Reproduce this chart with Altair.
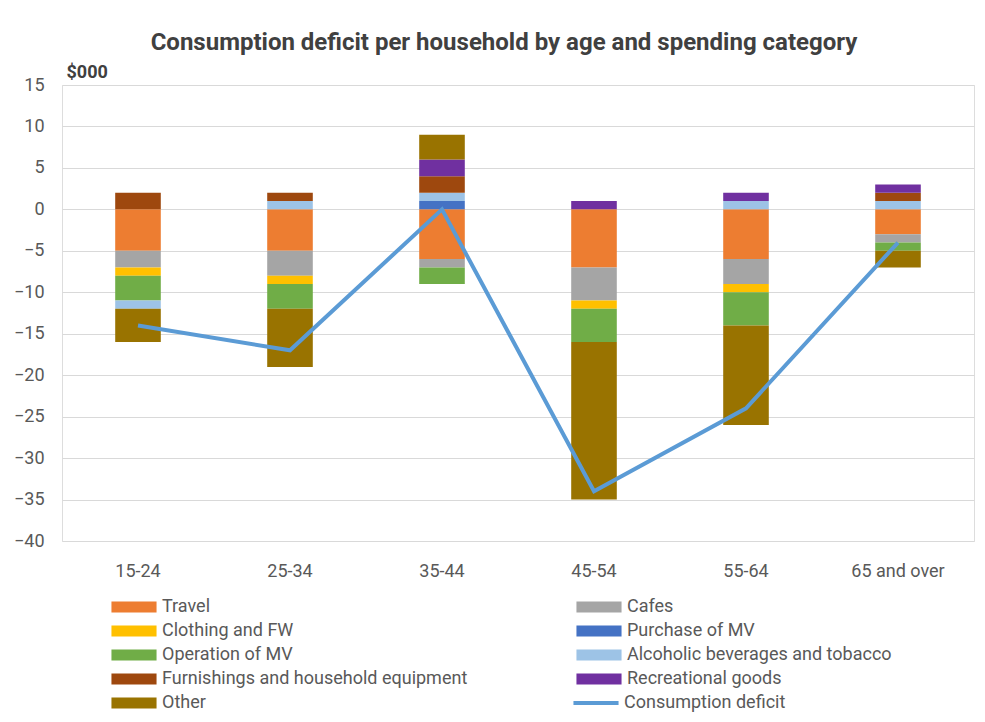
import altair as alt
import pandas as pd

ages = ["15-24", "25-34", "35-44", "45-54", "55-64", "65 and over"]

series = [
    "Travel", "Cafes", "Clothing and FW", "Purchase of MV", "Operation of MV",
    "Alcoholic beverages and tobacco", "Furnishings and household equipment",
    "Recreational goods", "Other",
]
colors = ["#ED7D31", "#A5A5A5", "#FFC000", "#4472C4", "#70AD47",
          "#9DC3E6", "#9E480E", "#7030A0", "#997300"]

travel = [-5, -5, -6, -7, -6, -3]
cafes = [-2, -3, -1, -4, -3, -1]
clothing = [-1, -1, 0, -1, -1, 0]
purchase_mv = [0, 0, 1, 0, 0, 0]
operation_mv = [-3, -3, -2, -4, -4, -1]
alcohol = [-1, 1, 1, 0, 1, 1]
furnishings = [2, 1, 2, 0, 0, 1]
recreational = [0, 0, 2, 1, 1, 1]
other = [-4, -7, 3, -19, -12, -2]

deficit = [-14, -17, 0, -34, -24, -4]

values = [travel, cafes, clothing, purchase_mv, operation_mv,
          alcohol, furnishings, recreational, other]

rows = []
for i, (name, vals) in enumerate(zip(series, values)):
    for age, v in zip(ages, vals):
        if v != 0:
            rows.append({"age": age, "series": name, "value": v, "idx": i})
bars_df = pd.DataFrame(rows)

line_df = pd.DataFrame({"age": ages, "value": deficit,
                        "series": ["Consumption deficit"] * len(ages)})

FONT = "Roboto"
LABEL = "#595959"

x_enc = alt.X("age:N", sort=ages,
              scale=alt.Scale(domain=ages, paddingInner=0.7, paddingOuter=0.35),
              axis=alt.Axis(title=None, labelAngle=0, ticks=False, domain=False,
                            labelFontSize=18, labelColor=LABEL, labelFont=FONT,
                            labelPadding=21, grid=False))

y_scale = alt.Scale(domain=[-40, 15], nice=False, zero=False)

legend_common = dict(title=None, orient="none", labelFontSize=18,
                     labelColor=LABEL, labelFont=FONT, padding=0,
                     labelLimit=400, symbolSize=121, labelOffset=19)

bars = alt.Chart(bars_df).mark_bar().encode(
    x=x_enc,
    y=alt.Y("value:Q", stack="zero", scale=y_scale,
            axis=alt.Axis(title="$000", titleAngle=0, titleAlign="left",
                          titleBaseline="middle", titleX=4, titleY=-13,
                          titleFontSize=18, titleFontWeight="bold",
                          titleColor="#404040", titleFont=FONT,
                          values=list(range(-40, 16, 5)), ticks=False,
                          domain=False, labelFontSize=18, labelColor=LABEL,
                          labelFont=FONT, labelPadding=18,
                          gridColor="#D9D9D9", gridWidth=1.2)),
    color=alt.Color("series:N",
                    scale=alt.Scale(domain=series, range=colors),
                    legend=alt.Legend(legendX=63, legendY=513, columns=2,
                                      direction="horizontal",
                                      columnPadding=108, rowPadding=6,
                                      symbolType="M-4.1,-1H4.1V1H-4.1Z",
                                      symbolStrokeWidth=0,
                                      **legend_common)),
    order=alt.Order("idx:Q", sort="ascending"),
)

line = alt.Chart(line_df).mark_line(strokeWidth=4).encode(
    x=alt.X("age:N", sort=ages),
    y=alt.Y("value:Q", scale=y_scale),
    color=alt.Color("series:N",
                    scale=alt.Scale(domain=["Consumption deficit"],
                                    range=["#5B9BD5"]),
                    legend=alt.Legend(legendX=525, legendY=609,
                                      symbolType="M-4.1,0H4.1",
                                      symbolStrokeWidth=4,
                                      **legend_common)),
)

chart = alt.layer(bars, line).resolve_scale(color="independent").properties(
    width=912,
    height=456,
    autosize=alt.AutoSizeParams(type="none"),
    padding={"left": 62, "top": 85, "right": 11, "bottom": 181},
    title=alt.TitleParams(
        "Consumption deficit per household by age and spending category",
        fontSize=24, fontWeight="bold", color="#404040", font=FONT,
        anchor="middle", offset=8, dx=-14),
).configure_view(stroke=None).configure(background="white")

chart.save("out.html", embed_options={"renderer": "svg", "actions": False})
